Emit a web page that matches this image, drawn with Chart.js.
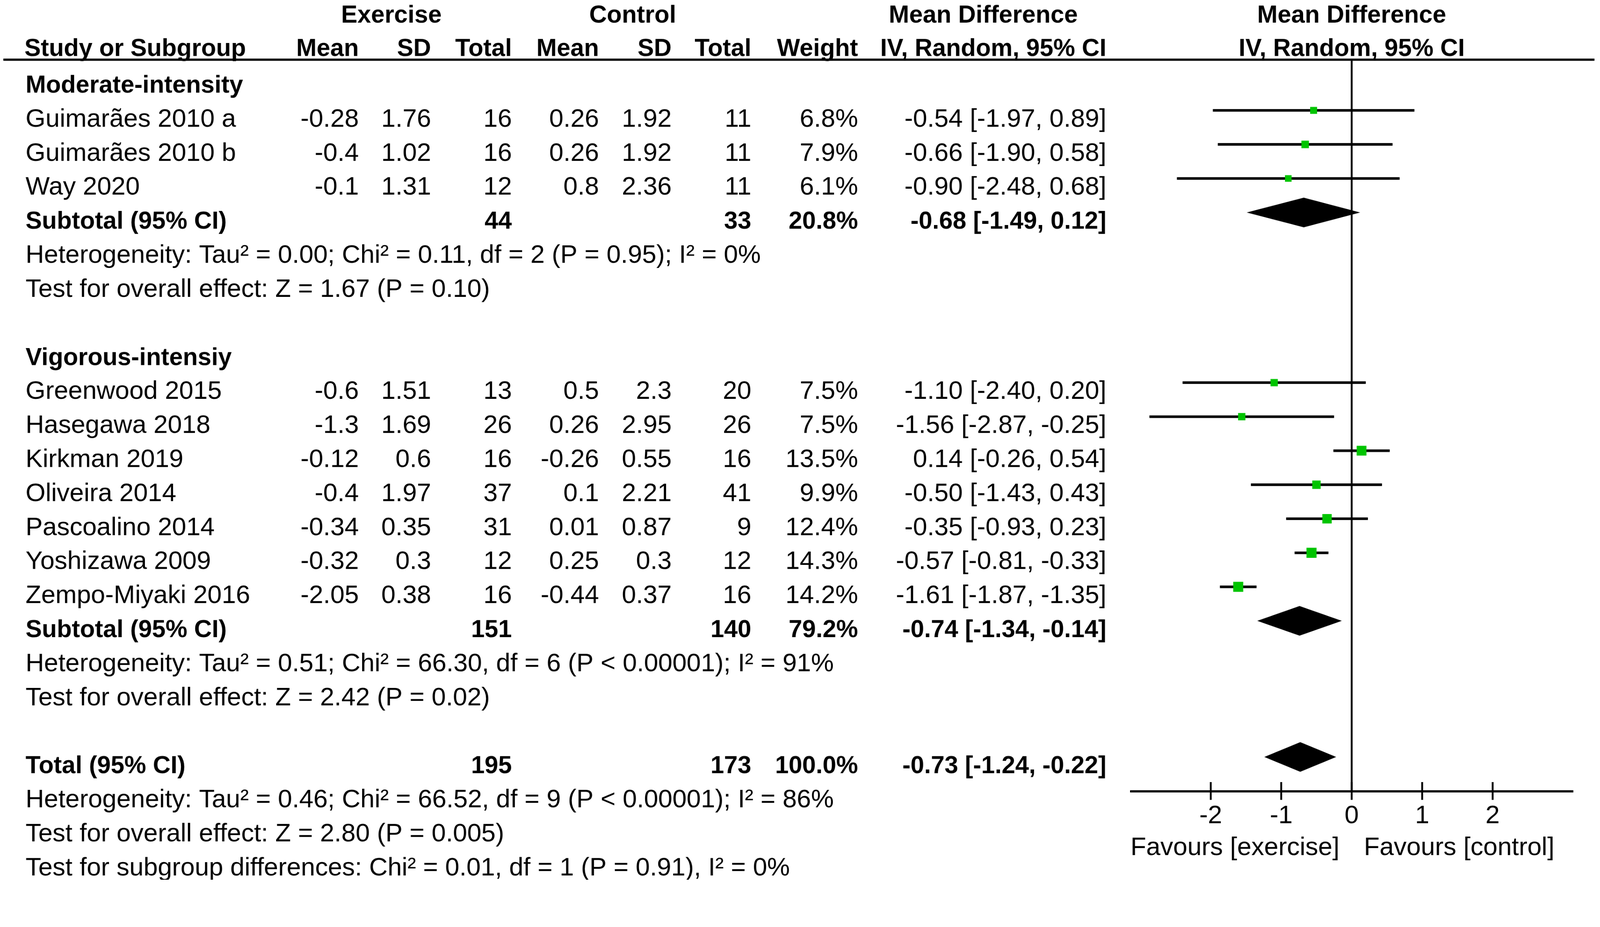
<!DOCTYPE html>
<html>
<head>
<meta charset="utf-8">
<script src="https://cdn.jsdelivr.net/npm/chart.js@4.4.1/dist/chart.umd.min.js"></script>
<style>
html,body{margin:0;padding:0;background:#ffffff;overflow:hidden;}
#wrap{width:4317px;height:2373px;position:absolute;left:0;top:0;transform-origin:0 0;}
canvas{display:block;}
</style>
</head>
<body>
<div id="wrap"><canvas id="c" width="4317" height="2373"></canvas></div>
<script>
// ---------- data ----------
const studyNames = ["Guimarães 2010 a","Guimarães 2010 b","Way 2020",
  "Greenwood 2015","Hasegawa 2018","Kirkman 2019","Oliveira 2014","Pascoalino 2014","Yoshizawa 2009","Zempo-Miyaki 2016"];
const studyRows = [1,2,3,9,10,11,12,13,14,15];
const exMean  = [-0.28,-0.4,-0.1,-0.6,-1.3,-0.12,-0.4,-0.34,-0.32,-2.05];
const exSD    = [1.76,1.02,1.31,1.51,1.69,0.6,1.97,0.35,0.3,0.38];
const exTotal = [16,16,12,13,26,16,37,31,12,16];
const ctMean  = [0.26,0.26,0.8,0.5,0.26,-0.26,0.1,0.01,0.25,-0.44];
const ctSD    = [1.92,1.92,2.36,2.3,2.95,0.55,2.21,0.87,0.3,0.37];
const ctTotal = [11,11,11,20,26,16,41,9,12,16];
const weights = [6.8,7.9,6.1,7.5,7.5,13.5,9.9,12.4,14.3,14.2];
const md      = [-0.54,-0.66,-0.90,-1.10,-1.56,0.14,-0.50,-0.35,-0.57,-1.61];
const ciLow   = [-1.97,-1.90,-2.48,-2.40,-2.87,-0.26,-1.43,-0.93,-0.81,-1.87];
const ciHigh  = [0.89,0.58,0.68,0.20,-0.25,0.54,0.43,0.23,-0.33,-1.35];

const groupNames = ["Moderate-intensity","Vigorous-intensiy"];
const groupRows  = [0,8];

const sumNames  = ["Subtotal (95% CI)","Subtotal (95% CI)","Total (95% CI)"];
const sumRows   = [4,16,20];
const sumEx     = [44,151,195];
const sumCt     = [33,140,173];
const sumWeight = ["20.8%","79.2%","100.0%"];
const sumMd     = [-0.68,-0.74,-0.73];
const sumLow    = [-1.49,-1.34,-1.24];
const sumHigh   = [0.12,-0.14,-0.22];

const noteTexts = [
  "Heterogeneity: Tau² = 0.00; Chi² = 0.11, df = 2 (P = 0.95); I² = 0%",
  "Test for overall effect: Z = 1.67 (P = 0.10)",
  "Heterogeneity: Tau² = 0.51; Chi² = 66.30, df = 6 (P < 0.00001); I² = 91%",
  "Test for overall effect: Z = 2.42 (P = 0.02)",
  "Heterogeneity: Tau² = 0.46; Chi² = 66.52, df = 9 (P < 0.00001); I² = 86%",
  "Test for overall effect: Z = 2.80 (P = 0.005)",
  "Test for subgroup differences: Chi² = 0.01, df = 1 (P = 0.91), I² = 0%"
];
const noteRows = [5,6,17,18,21,22,23];

const xTicks = [-2,-1,0,1,2];
const favourLeft = "Favours [exercise]";
const favourRight = "Favours [control]";

// ---------- fit page to the window ----------
const W = 4317, H = 2373;
(function fit(){
  const s = Math.min(window.innerWidth / W, window.innerHeight / H);
  document.getElementById('wrap').style.transform = 'scale(' + s + ')';
})();

// ---------- styling ----------
const FONT = '"Liberation Sans", Arial, sans-serif';
const NORMAL = '69px ' + FONT;
const BOLD = 'bold 66px ' + FONT;
const GREEN = '#00c400';
const colRight = {exMean:968, exSD:1163, exTotal:1381, ctMean:1616, ctSD:1812, ctTotal:2027, weight:2315, ci:2985};
const nameX = 69;
const TEXT_OFF = 44; // baseline offset below row centre

function fmt(v){ return v.toFixed(2); }
function ciText(m,l,h){ return fmt(m) + " [" + fmt(l) + ", " + fmt(h) + "]"; }

const forestPlugin = {
  id: 'forest',
  beforeDatasetsDraw(chart){
    const ctx = chart.ctx, xs = chart.scales.x, ys = chart.scales.y;
    const ca = chart.chartArea;
    ctx.save();
    ctx.strokeStyle = '#000'; ctx.lineWidth = 5;
    ctx.beginPath();
    ctx.moveTo(xs.getPixelForValue(0), ca.top);
    ctx.lineTo(xs.getPixelForValue(0), ca.bottom);
    ctx.stroke();
    ctx.lineWidth = 7;
    for (let i=0;i<md.length;i++){
      const y = ys.getPixelForValue(studyRows[i]);
      ctx.beginPath();
      ctx.moveTo(xs.getPixelForValue(ciLow[i]), y);
      ctx.lineTo(xs.getPixelForValue(ciHigh[i]), y);
      ctx.stroke();
    }
    ctx.fillStyle = '#000';
    const hh = 40;
    for (let i=0;i<sumMd.length;i++){
      const y = ys.getPixelForValue(sumRows[i]);
      ctx.beginPath();
      ctx.moveTo(xs.getPixelForValue(sumLow[i]), y);
      ctx.lineTo(xs.getPixelForValue(sumMd[i]), y - hh);
      ctx.lineTo(xs.getPixelForValue(sumHigh[i]), y);
      ctx.lineTo(xs.getPixelForValue(sumMd[i]), y + hh);
      ctx.closePath();
      ctx.fill();
    }
    ctx.restore();
  },
  afterDraw(chart){
    const ctx = chart.ctx, xs = chart.scales.x, ys = chart.scales.y;
    const ca = chart.chartArea;
    const bl = r => ys.getPixelForValue(r) + TEXT_OFF;
    ctx.save();
    ctx.fillStyle = '#000'; ctx.strokeStyle = '#000';
    ctx.textBaseline = 'alphabetic';
    function t(s, x, y, align, bold){ ctx.font = bold ? BOLD : NORMAL; ctx.textAlign = align; ctx.fillText(s, x, y); }

    ctx.lineWidth = 6;
    ctx.beginPath(); ctx.moveTo(9, ca.top); ctx.lineTo(4302, ca.top); ctx.stroke();

    const h1 = bl(-2.06), h2 = bl(-1.08);
    t("Exercise", 1056, h1, 'center', true);
    t("Control", 1707, h1, 'center', true);
    t("Mean Difference", 2653, h1, 'center', true);
    t("Mean Difference", xs.getPixelForValue(0), h1, 'center', true);
    t("Study or Subgroup", 66, h2, 'left', true);
    t("Mean", colRight.exMean, h2, 'right', true);
    t("SD", colRight.exSD, h2, 'right', true);
    t("Total", colRight.exTotal, h2, 'right', true);
    t("Mean", colRight.ctMean, h2, 'right', true);
    t("SD", colRight.ctSD, h2, 'right', true);
    t("Total", colRight.ctTotal, h2, 'right', true);
    t("Weight", colRight.weight, h2, 'right', true);
    t("IV, Random, 95% CI", colRight.ci, h2, 'right', true);
    t("IV, Random, 95% CI", xs.getPixelForValue(0), h2, 'center', true);

    for (let i=0;i<groupNames.length;i++) t(groupNames[i], nameX, bl(groupRows[i]), 'left', true);

    for (let i=0;i<studyNames.length;i++){
      const y = bl(studyRows[i]);
      t(studyNames[i], nameX, y, 'left', false);
      t(String(exMean[i]), colRight.exMean, y, 'right', false);
      t(String(exSD[i]), colRight.exSD, y, 'right', false);
      t(String(exTotal[i]), colRight.exTotal, y, 'right', false);
      t(String(ctMean[i]), colRight.ctMean, y, 'right', false);
      t(String(ctSD[i]), colRight.ctSD, y, 'right', false);
      t(String(ctTotal[i]), colRight.ctTotal, y, 'right', false);
      t(weights[i].toFixed(1) + "%", colRight.weight, y, 'right', false);
      t(ciText(md[i], ciLow[i], ciHigh[i]), colRight.ci, y, 'right', false);
    }
    for (let i=0;i<sumNames.length;i++){
      const y = bl(sumRows[i]);
      t(sumNames[i], nameX, y, 'left', true);
      t(String(sumEx[i]), colRight.exTotal, y, 'right', true);
      t(String(sumCt[i]), colRight.ctTotal, y, 'right', true);
      t(sumWeight[i], colRight.weight, y, 'right', true);
      t(ciText(sumMd[i], sumLow[i], sumHigh[i]), colRight.ci, y, 'right', true);
    }
    for (let i=0;i<noteTexts.length;i++) t(noteTexts[i], nameX, bl(noteRows[i]), 'left', false);

    ctx.lineWidth = 6;
    ctx.beginPath(); ctx.moveTo(ca.left, ca.bottom); ctx.lineTo(ca.right, ca.bottom); ctx.stroke();
    ctx.lineWidth = 5;
    for (const v of xTicks){
      const x = xs.getPixelForValue(v);
      ctx.beginPath(); ctx.moveTo(x, ca.bottom - 25); ctx.lineTo(x, ca.bottom + 23); ctx.stroke();
      t(String(v), x, ca.bottom + 86, 'center', false);
    }
    const z = xs.getPixelForValue(0);
    t(favourLeft, z - 33, ca.bottom + 172, 'right', false);
    t(favourRight, z + 33, ca.bottom + 172, 'left', false);
    ctx.restore();
  }
};

const pointData = md.map((v,i) => ({x: v, y: studyRows[i]}));
const pointRadii = weights.map(w => 7.2 * Math.sqrt(w) / Math.SQRT2);

new Chart(document.getElementById('c'), {
  type: 'scatter',
  data: {
    datasets: [{
      data: pointData,
      pointStyle: 'rect',
      pointRadius: pointRadii,
      pointHoverRadius: pointRadii,
      backgroundColor: GREEN,
      borderColor: GREEN,
      borderWidth: 0
    }]
  },
  options: {
    responsive: false,
    animation: false,
    devicePixelRatio: 1,
    events: [],
    layout: { padding: { left: 3049, right: 72, top: 161, bottom: 238 } },
    plugins: { legend: { display: false }, tooltip: { enabled: false } },
    scales: {
      x: { type: 'linear', min: -3.145, max: 3.145, display: false },
      y: { type: 'linear', min: -0.49, max: 21.01, reverse: true, display: false }
    }
  },
  plugins: [forestPlugin]
});
</script>
</body>
</html>
